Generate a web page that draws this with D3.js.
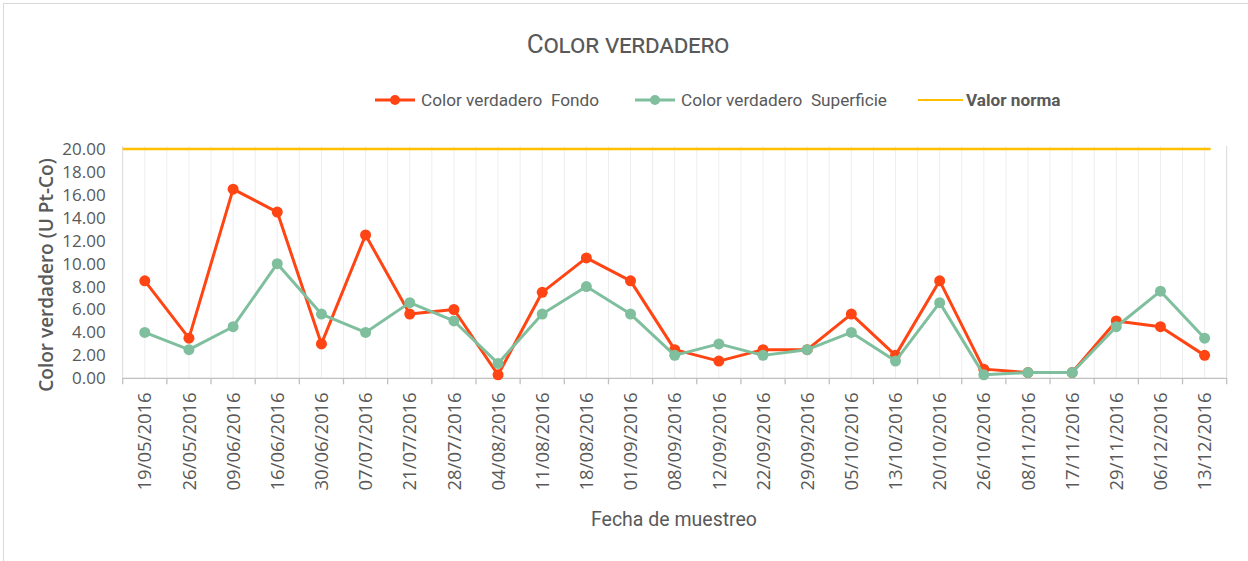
<!DOCTYPE html>
<html>
<head>
<meta charset="utf-8">
<script src="https://cdn.jsdelivr.net/npm/d3@7"></script>
<style>
  body { margin: 0; background: #fff; }
  svg { display: block; }
  text { fill: #595959; white-space: pre; }
</style>
</head>
<body>
<div id="chart"></div>
<script>
const fechas = ["19/05/2016","26/05/2016","09/06/2016","16/06/2016","30/06/2016","07/07/2016",
  "21/07/2016","28/07/2016","04/08/2016","11/08/2016","18/08/2016","01/09/2016","08/09/2016",
  "12/09/2016","22/09/2016","29/09/2016","05/10/2016","13/10/2016","20/10/2016","26/10/2016",
  "08/11/2016","17/11/2016","29/11/2016","06/12/2016","13/12/2016"];
const fondo = [8.5, 3.5, 16.5, 14.5, 3.0, 12.5, 5.6, 6.0, 0.3, 7.5, 10.5, 8.5, 2.5,
  1.5, 2.5, 2.5, 5.6, 2.0, 8.5, 0.8, 0.5, 0.5, 5.0, 4.5, 2.0];
const superficie = [4.0, 2.5, 4.5, 10.0, 5.6, 4.0, 6.6, 5.0, 1.3, 5.6, 8.0, 5.6, 2.0,
  3.0, 2.0, 2.5, 4.0, 1.5, 6.6, 0.3, 0.5, 0.5, 4.5, 7.6, 3.5];
const valorNorma = 20;
const yTicks = [0, 2, 4, 6, 8, 10, 12, 14, 16, 18, 20];

const W = 1248, H = 561;
const margin = { top: 149, right: 21.3, bottom: 182.7, left: 122.7 };
const cOrange = "#ff4513", cGreen = "#7fbf9e", cYellow = "#ffc000";
const font = "Roboto, 'Liberation Sans', Arial, sans-serif";

const svg = d3.select("#chart").append("svg")
  .attr("width", W).attr("height", H)
  .style("font-family", font);

// chart frame
svg.append("rect")
  .attr("x", 3.5).attr("y", 3.5)
  .attr("width", W + 10).attr("height", H + 10)
  .attr("fill", "none").attr("stroke", "#d9d9d9");

const x = d3.scaleBand()
  .domain(fechas)
  .range([margin.left, W - margin.right])
  .padding(0);
const y = d3.scaleLinear()
  .domain([0, 20])
  .range([H - margin.bottom, margin.top]);
const bw = x.bandwidth();
const cx = d => x(d) + bw / 2;

// vertical gridlines, at band centres and band edges
const gridX = [];
fechas.forEach(d => { gridX.push(x(d)); gridX.push(cx(d)); });
gridX.push(x.range()[1]);
svg.append("g").selectAll("line")
  .data(gridX)
  .enter().append("line")
  .attr("x1", d => d).attr("x2", d => d)
  .attr("y1", y(20) - 3).attr("y2", y(0))
  .attr("stroke", (d, i) => (i === 0 || i === gridX.length - 1) ? "#d9d9d9" : "#eeeeee")
  .attr("stroke-width", 1);

// x axis line + tick marks at band edges
svg.append("line")
  .attr("x1", x.range()[0]).attr("x2", x.range()[1])
  .attr("y1", y(0)).attr("y2", y(0))
  .attr("stroke", "#bfbfbf").attr("stroke-width", 1.3);
svg.append("g").selectAll("line")
  .data(fechas.map(d => x(d)).concat([x.range()[1]]))
  .enter().append("line")
  .attr("x1", d => d).attr("x2", d => d)
  .attr("y1", y(0)).attr("y2", y(0) + 6)
  .attr("stroke", "#bfbfbf").attr("stroke-width", 1.3);

// x labels
const xAxis = svg.append("g")
  .attr("transform", `translate(0,${y(0)})`)
  .call(d3.axisBottom(x).tickSize(0).tickPadding(0));
xAxis.select(".domain").remove();
xAxis.selectAll("text")
  .attr("transform", "translate(0,14) rotate(-90)")
  .attr("x", 0).attr("y", 0).attr("dy", "0.36em")
  .style("text-anchor", "end")
  .style("font-family", "'Open Sans', sans-serif")
  .style("font-size", "18.5px")
  .style("fill", "#595959");

// y axis
const yAxis = svg.append("g")
  .attr("transform", `translate(${margin.left},0)`)
  .call(d3.axisLeft(y).tickValues(yTicks).tickFormat(d3.format(".2f")).tickSize(0).tickPadding(17));
yAxis.select(".domain").remove();
yAxis.selectAll("text")
  .style("font-family", "'Open Sans', sans-serif")
  .style("font-size", "17px")
  .style("fill", "#595959");

// norma line
svg.append("line")
  .attr("x1", x.range()[0]).attr("x2", cx(fechas[fechas.length - 1]) + 6)
  .attr("y1", y(valorNorma)).attr("y2", y(valorNorma))
  .attr("stroke", cYellow).attr("stroke-width", 2.5);

// series
const line = d3.line().x((d, i) => cx(fechas[i])).y(d => y(d));
function drawSeries(vals, color) {
  const g = svg.append("g");
  g.append("path")
    .datum(vals)
    .attr("d", line)
    .attr("fill", "none")
    .attr("stroke", color)
    .attr("stroke-width", 3)
    .attr("stroke-linejoin", "round");
  g.selectAll("circle")
    .data(vals)
    .enter().append("circle")
    .attr("cx", (d, i) => cx(fechas[i]))
    .attr("cy", d => y(d))
    .attr("r", 5.5)
    .attr("fill", color);
}
drawSeries(fondo, cOrange);
drawSeries(superficie, cGreen);

// title
svg.append("text")
  .attr("x", 628).attr("y", 53)
  .attr("text-anchor", "middle")
  .style("font-size", "26px")
  .style("font-weight", "normal")
  .style("font-variant", "small-caps")
  .style("letter-spacing", "-0.3px")
  .style("fill", "#595959")
  .text("Color verdadero");

// legend
const legend = [
  { label: "Color verdadero  Fondo", color: cOrange, marker: true, x: 375 },
  { label: "Color verdadero  Superficie", color: cGreen, marker: true, x: 635 },
  { label: "Valor norma", color: cYellow, marker: false, x: 918 }
];
const lg = svg.append("g").selectAll("g")
  .data(legend)
  .enter().append("g")
  .attr("transform", d => `translate(${d.x},100)`);
lg.append("line")
  .attr("x1", 0).attr("x2", d => d.marker ? 40 : 45)
  .attr("y1", 0).attr("y2", 0)
  .attr("stroke", d => d.color)
  .attr("stroke-width", d => d.marker ? 3 : 2);
lg.filter(d => d.marker).append("circle")
  .attr("cx", 20).attr("cy", 0).attr("r", 5)
  .attr("fill", d => d.color);
lg.append("text")
  .attr("x", d => d.marker ? 46 : 48)
  .attr("y", 0).attr("dy", "0.35em")
  .style("font-size", "17.2px")
  .style("font-weight", d => d.marker ? "normal" : "bold")
  .text(d => d.label);

// axis titles
svg.append("text")
  .attr("x", 674).attr("y", 526)
  .attr("text-anchor", "middle")
  .style("font-size", "19.5px")
  .text("Fecha de muestreo");

svg.append("text")
  .attr("transform", `translate(53,275) rotate(-90)`)
  .attr("text-anchor", "middle")
  .style("font-family", "'Open Sans', sans-serif")
  .style("font-size", "19px")
  .style("font-weight", "600")
  .text("Color verdadero (U Pt-Co)");
</script>
</body>
</html>
